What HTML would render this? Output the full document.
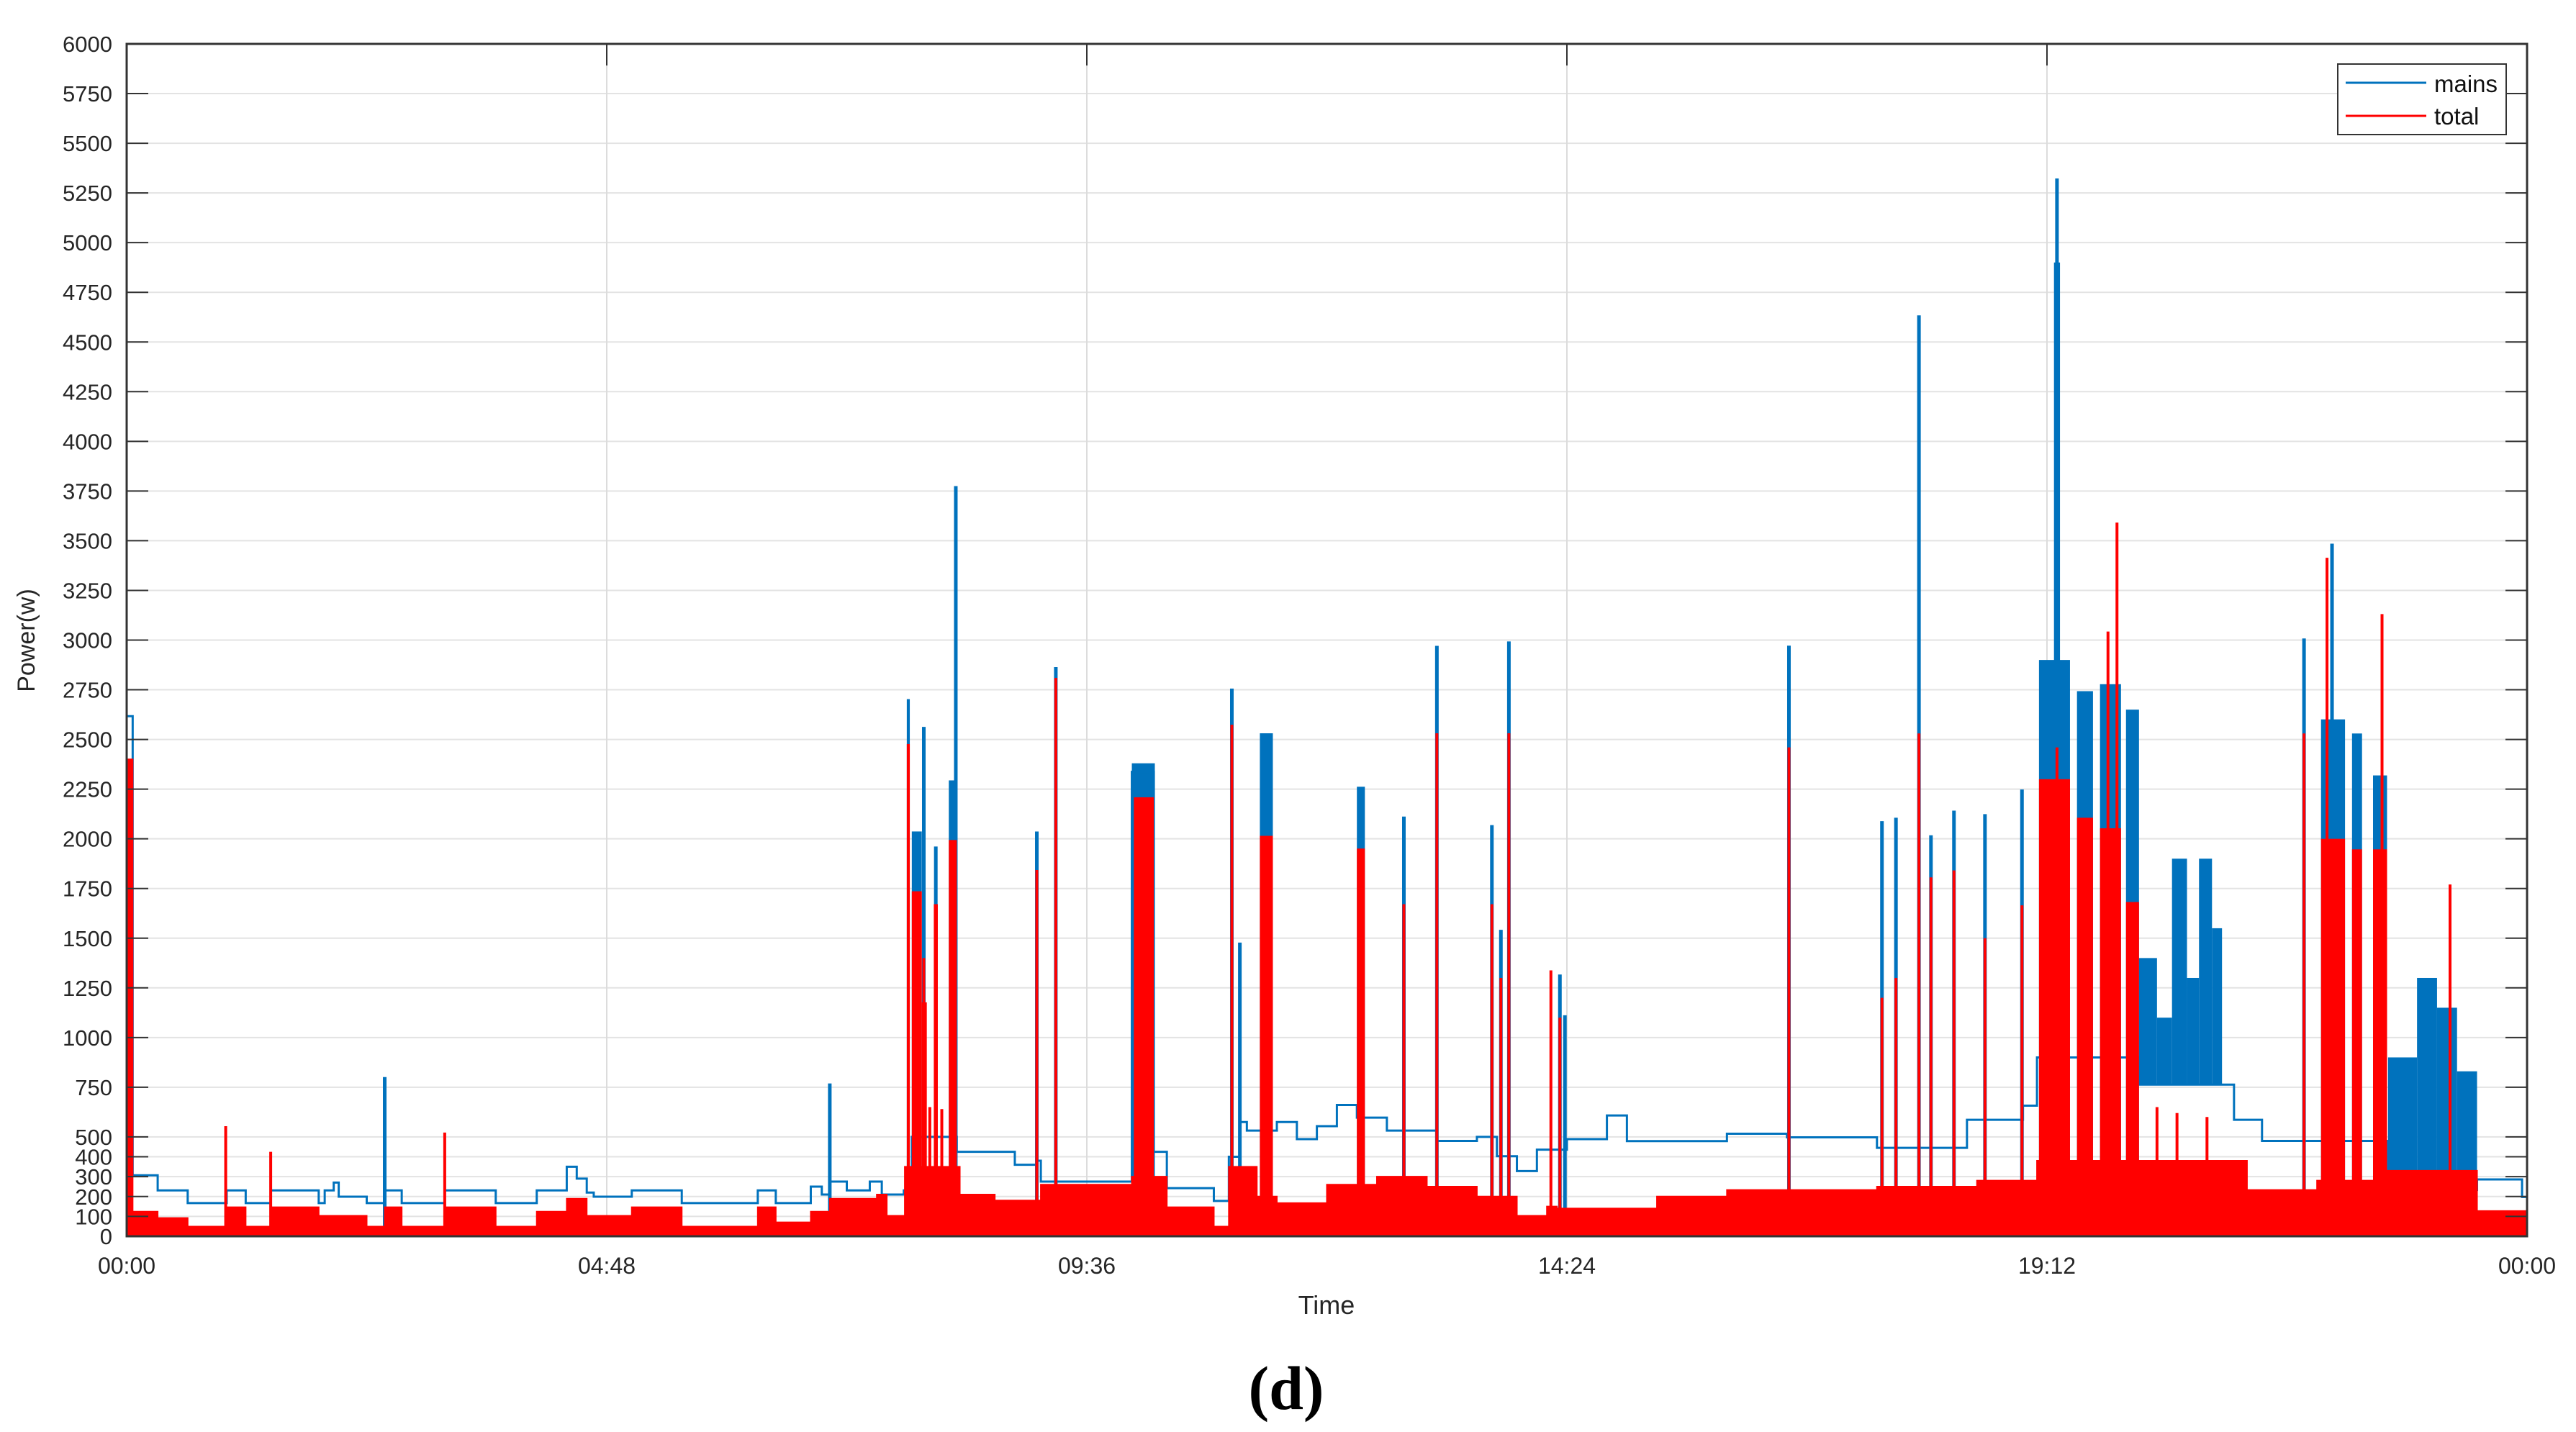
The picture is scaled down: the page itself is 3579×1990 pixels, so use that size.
<!DOCTYPE html>
<html><head><meta charset="utf-8"><style>
html,body{margin:0;padding:0;background:#fff;}
svg{display:block;}
text{font-family:"Liberation Sans",sans-serif;}
</style></head><body>
<svg id="chart" width="3579" height="1990" viewBox="0 0 3579 1990" xmlns="http://www.w3.org/2000/svg">
<rect width="3579" height="1990" fill="#fff"/>
<g id="grid"></g>
<g id="blue"></g>
<g id="red"></g>
<g id="axes"></g>
<text x="0" y="0" transform="translate(48,890) rotate(-90)" text-anchor="middle" font-size="34" fill="#262626">Power(w)</text>
<text x="1843" y="1826" text-anchor="middle" font-size="36" fill="#262626">Time</text>
<text x="1787" y="1958" text-anchor="middle" font-size="86" font-weight="bold" style="font-family:'Liberation Serif',serif">(d)</text>
<g>
<rect x="3248" y="89" width="234" height="98" fill="#fff" stroke="#333" stroke-width="2"/>
<line x1="3259" y1="115" x2="3371" y2="115" stroke="#0072BD" stroke-width="3"/>
<text x="3382" y="128" font-size="33" fill="#111">mains</text>
<line x1="3259" y1="161" x2="3371" y2="161" stroke="#FF0000" stroke-width="3"/>
<text x="3382" y="173" font-size="33" fill="#111">total</text>
</g>
</svg>
<script>
const yTicks = [0,100,200,300,400,500,750,1000,1250,1500,1750,2000,2250,2500,2750,3000,3250,3500,3750,4000,4250,4500,4750,5000,5250,5500,5750,6000];
const xTickHours = [0,4.8,9.6,14.4,19.2,24];
const xTickLabels = ["00:00","04:48","09:36","14:24","19:12","00:00"];

const mainsSteps = [[0,2617],[0.06,307],[0.31,231],[0.61,167],[1.0,231],[1.19,167],[1.44,231],[1.92,167],[1.98,231],[2.07,270],[2.12,199],[2.4,167],[2.58,231],[2.75,167],[3.18,231],[3.69,167],[4.1,231],[4.4,350],[4.5,290],[4.6,220],[4.67,199],[5.05,231],[5.55,167],[6.31,231],[6.49,167],[6.84,250],[6.95,210],[7.03,275],[7.2,231],[7.43,275],[7.55,210],[7.77,231],[7.85,500],[8.3,425],[8.88,360],[9.1,380],[9.14,275],[10.05,2337],[10.27,425],[10.4,242],[10.87,178],[11.02,400],[11.13,575],[11.2,532],[11.5,575],[11.7,489],[11.9,554],[12.1,661],[12.3,597],[12.6,532],[13.1,480],[13.5,500],[13.7,403],[13.9,328],[14.1,436],[14.4,489],[14.8,608],[15.0,479],[16.0,516],[16.6,498],[17.5,445],[18.4,586],[18.96,657],[19.1,900],[20.12,763],[21.07,586],[21.35,480],[21.9,480],[22.6,233],[23.5,286],[23.95,198]];
const mainsBlocks = [[7.80,7.83,2703],[7.85,7.95,2037],[8.22,8.30,2294],[10.05,10.28,2380],[11.33,11.46,2531],[12.30,12.38,2262],[19.12,19.43,2900],[19.27,19.33,4900],[19.5,19.66,2743],[19.73,19.94,2778],[19.99,20.12,2650],[21.94,22.18,2601],[22.25,22.35,2530],[22.46,22.6,2319]];
const mainsBands = [[20.12,20.3,763,1400],[20.3,20.45,763,1100],[20.45,20.6,763,1900],[20.6,20.72,763,1300],[20.72,20.85,763,1900],[20.85,20.95,763,1550],[22.61,22.9,233,900],[22.9,23.1,233,1300],[23.1,23.3,233,1150],[23.3,23.5,233,830]];
const mainsSpikes = [[2.58,801],[7.03,769],[7.97,2563],[8.09,1961],[8.29,3775],[9.1,2037],[9.29,2864],[11.05,2756],[11.13,1478],[12.77,2112],[13.1,2971],[13.65,2069],[13.74,1542],[13.82,2993],[14.33,1317],[14.38,1112],[16.62,2972],[17.55,2089],[17.69,2106],[17.92,4634],[18.04,2018],[18.27,2142],[18.58,2124],[18.95,2248],[19.3,5323],[21.77,3008],[22.05,3485]];

const totalSteps = [[0,2400],[0.06,124],[0.31,92],[0.61,49],[0.99,146],[1.19,49],[1.44,146],[1.92,103],[2.4,49],[2.58,146],[2.75,49],[3.18,146],[3.69,49],[4.1,124],[4.4,189],[4.6,103],[5.05,146],[5.55,49],[6.31,146],[6.49,70],[6.84,124],[7.03,189],[7.5,210],[7.6,103],[7.78,350],[8.33,210],[8.68,180],[9.14,260],[10.05,300],[10.3,300],[10.4,146],[10.87,49],[11.02,350],[11.3,200],[11.5,167],[12.0,260],[12.5,300],[13.0,250],[13.5,200],[13.9,103],[14.2,150],[14.3,140],[15.3,200],[16.0,233],[17.5,250],[18.5,280],[19.1,380],[21.2,233],[21.9,280],[22.6,330],[23.5,127]];
const totalBlocks = [[7.80,7.83,2477],[7.85,7.95,1736],[7.95,8.0,1177],[8.07,8.11,1671],[8.22,8.30,1994],[10.07,10.27,2209],[11.33,11.46,2015],[12.30,12.38,1951],[19.12,19.43,2300],[19.5,19.66,2106],[19.73,19.94,2053],[19.99,20.12,1682],[21.94,22.18,2000],[22.25,22.35,1947],[22.46,22.6,1947]];
const totalSpikes = [[0.99,554],[1.44,425],[3.18,522],[7.97,1400],[8.03,650],[8.15,640],[8.09,1671],[9.1,1843],[9.29,2810],[11.05,2574],[12.77,1671],[13.1,2531],[13.65,1671],[13.74,1300],[13.82,2531],[14.24,1338],[14.33,1100],[16.62,2460],[17.55,1200],[17.69,1300],[17.92,2530],[18.04,1806],[18.27,1841],[18.58,1500],[18.95,1665],[19.3,2460],[19.81,3043],[19.9,3591],[20.3,650],[20.5,620],[20.8,600],[21.77,2530],[22.0,3414],[22.55,3131],[23.23,1770]];

const L=176,R=3511,T=61,B=1718;
function X(h){return L+h/24*(R-L);}
function Y(v){return B-v*(B-T)/6000;}
const NS="http://www.w3.org/2000/svg";
function mk(tag,parent,attrs){const e=document.createElementNS(NS,tag);for(const k in attrs)e.setAttribute(k,attrs[k]);parent.appendChild(e);return e;}

const grid=document.getElementById('grid'),axes=document.getElementById('axes'),blue=document.getElementById('blue'),red=document.getElementById('red');
yTicks.forEach(v=>{
  const g=mk('line',grid,{x1:L,x2:R,y1:Y(v),y2:Y(v),stroke:'#e3e3e3','stroke-width':2});
  
  
  const t1=mk('line',axes,{x1:L,x2:L+30,y1:Y(v),y2:Y(v),stroke:'#333','stroke-width':2});
  
  
  const t2=mk('line',axes,{x1:R-30,x2:R,y1:Y(v),y2:Y(v),stroke:'#333','stroke-width':2});
  
  
  const tx=mk('text',axes,{x:156,y:Y(v)+11,'text-anchor':'end','font-size':31,fill:'#262626'});
  tx.textContent=v;
  
  
});
xTickHours.forEach((h,i)=>{
  const g=mk('line',grid,{x1:X(h),x2:X(h),y1:T,y2:B,stroke:'#dcdcdc','stroke-width':2});
  
  
  const tk=mk('line',axes,{x1:X(h),x2:X(h),y1:T,y2:T+30,stroke:'#333','stroke-width':2});
  
  
  const tx=mk('text',axes,{x:X(h),y:1770,'text-anchor':'middle','font-size':32,fill:'#262626'});
  tx.textContent=xTickLabels[i];
  
  
});
const frame=mk('rect',axes,{x:L,y:T,width:R-L,height:B-T,fill:'none',stroke:'#333','stroke-width':3});



mainsBands.forEach(b=>{
  const r=mk('rect',blue,{x:X(b[0]),y:Y(b[3]),width:X(b[1])-X(b[0]),height:Y(b[2])-Y(b[3]),fill:'#0072BD'});
  
  
});
mainsBlocks.forEach(b=>{
  const r=mk('rect',blue,{x:X(b[0]),y:Y(b[2]),width:X(b[1])-X(b[0]),height:B-Y(b[2]),fill:'#0072BD'});
  
  
});
mainsSpikes.forEach(s=>{
  const l=mk('line',blue,{x1:X(s[0]),x2:X(s[0]),y1:B,y2:Y(s[1]),stroke:'#0072BD','stroke-width':5});
  
  
});
let d='';
mainsSteps.forEach((p,i)=>{
  if(i===0)d+='M'+X(p[0])+','+Y(p[1]);
  else d+='L'+X(p[0])+','+Y(mainsSteps[i-1][1])+'L'+X(p[0])+','+Y(p[1]);
});
d+='L'+X(24)+','+Y(mainsSteps[mainsSteps.length-1][1]);
const ml=mk('path',blue,{d:d,fill:'none',stroke:'#0072BD','stroke-width':3});



let a='M'+X(0)+','+B;
totalSteps.forEach((p,i)=>{
  const prev=i===0?0:totalSteps[i-1][1];
  a+='L'+X(p[0])+','+Y(prev)+'L'+X(p[0])+','+Y(p[1]);
});
a+='L'+X(24)+','+Y(totalSteps[totalSteps.length-1][1])+'L'+X(24)+','+B+'Z';
const ta=mk('path',red,{d:a,fill:'#FF0000',stroke:'#FF0000','stroke-width':2});


totalBlocks.forEach(b=>{
  const r=mk('rect',red,{x:X(b[0]),y:Y(b[2]),width:X(b[1])-X(b[0]),height:B-Y(b[2]),fill:'#FF0000'});
  
  
});
totalSpikes.forEach(s=>{
  const l=mk('line',red,{x1:X(s[0]),x2:X(s[0]),y1:B,y2:Y(s[1]),stroke:'#FF0000','stroke-width':4});
  
  
});
</script>
</body></html>
